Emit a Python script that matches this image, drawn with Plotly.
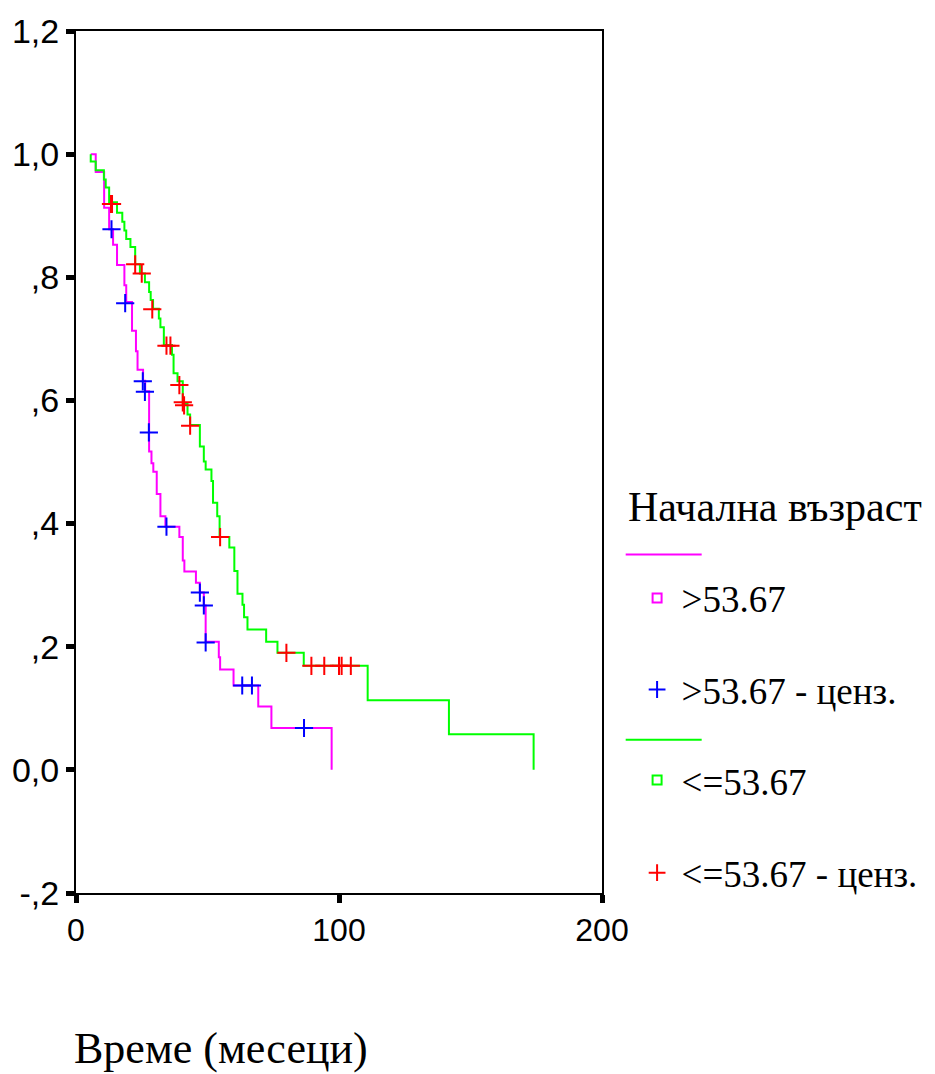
import plotly.graph_objects as go

# ---- data (time in months, cumulative survival) ----
t_gt = [5.6, 7.5, 10.7, 12.6, 14.1, 15.6, 18.4, 19.1, 21.3, 22.8, 23.4, 25.5, 26.3,
        27.8, 28.7, 29.4, 30.7, 32.1, 34.0, 39.3, 40.6, 41.2, 45.6, 47.1, 48.6, 49.3,
        54.3, 54.8, 59.9, 69.3, 74.3, 97.2]
s_gt = [1.0, 0.971, 0.913, 0.878, 0.853, 0.820, 0.787, 0.760, 0.713, 0.680, 0.650, 0.632, 0.615,
        0.517, 0.498, 0.484, 0.448, 0.412, 0.395, 0.378, 0.340, 0.322, 0.304, 0.288, 0.267, 0.208,
        0.183, 0.163, 0.137, 0.103, 0.068, 0.0]

t_le = [5.6, 5.6, 7.5, 10.6, 11.3, 12.6, 15.6, 17.6, 18.4, 19.1, 20.7, 22.5, 24.3, 26.2,
        27.8, 28.4, 29.3, 31.5, 32.1, 33.4, 36.5, 37.1, 38.6, 40.6, 42.4, 43.4, 47.1, 48.6,
        49.3, 51.5, 52.1, 53.7, 54.6, 58.3, 60.2, 61.4, 63.3, 63.9, 65.2, 72.3, 76.6, 86.6,
        110.9, 141.8, 174.0]
s_le = [1.0, 0.988, 0.974, 0.959, 0.946, 0.922, 0.905, 0.890, 0.876, 0.862, 0.849, 0.821, 0.806, 0.792,
        0.776, 0.763, 0.749, 0.733, 0.719, 0.690, 0.674, 0.644, 0.631, 0.594, 0.577, 0.560, 0.525, 0.501,
        0.488, 0.469, 0.434, 0.412, 0.378, 0.361, 0.323, 0.286, 0.268, 0.248, 0.228, 0.208, 0.190, 0.169,
        0.113, 0.058, 0.0]

cens_t_gt = [13.5, 18.7, 25.4, 26.2, 27.7, 34.4, 47.1, 48.6, 49.3, 63.2, 66.9, 86.7]
cens_s_gt = [0.878, 0.758, 0.631, 0.614, 0.548, 0.395, 0.288, 0.267, 0.207, 0.137, 0.137, 0.068]

cens_t_le = [13.3, 13.7, 22.5, 25.0, 29.0, 34.4, 35.9, 39.3, 40.6, 41.1, 43.4, 54.8, 80.0,
             89.5, 94.4, 100.0, 101.0, 104.5]
cens_s_le = [0.919, 0.919, 0.821, 0.806, 0.748, 0.689, 0.689, 0.625, 0.597, 0.592, 0.559, 0.378, 0.190,
             0.169, 0.169, 0.169, 0.169, 0.169]

y_ticks = [-0.2, 0.0, 0.2, 0.4, 0.6, 0.8, 1.0, 1.2]
y_tick_labels = ["-,2", "0,0", ",2", ",4", ",6", ",8", "1,0", "1,2"]
x_ticks = [0, 100, 200]
x_tick_labels = ["0", "100", "200"]

legend_title = "Начална възраст"
group_names = [">53.67", ">53.67 - ценз.", "<=53.67", "<=53.67 - ценз."]
x_title = "Време (месеци)"

# ---- styling ----
MAG, GRN, BLU, RED = "#FF00FF", "#00FF00", "#0000FF", "#FF0000"
SERIF = "'Liberation Serif', 'Times New Roman', Tinos, 'DejaVu Serif', serif"
SANS = "'Liberation Sans', Arial, sans-serif"

W, H = 935, 1074
ML, MR, MT, MB = 75, W - 608, 27, H - 893
PW, PH = W - ML - MR, H - MT - MB


def px(xp):
    return (xp - ML) / PW


def py(yp):
    return (H - MB - yp) / PH


fig = go.Figure()
fig.add_trace(go.Scatter(x=t_gt, y=s_gt, mode="lines",
                         line=dict(color=MAG, width=2, shape="hv"), showlegend=False))
fig.add_trace(go.Scatter(x=t_le, y=s_le, mode="lines",
                         line=dict(color=GRN, width=2, shape="hv"), showlegend=False))
fig.add_trace(go.Scatter(x=cens_t_gt, y=cens_s_gt, mode="markers",
                         marker=dict(symbol="cross-thin", size=13, color=BLU,
                                     line=dict(color=BLU, width=2)), showlegend=False))
fig.add_trace(go.Scatter(x=cens_t_le, y=cens_s_le, mode="markers",
                         marker=dict(symbol="cross-thin", size=13, color=RED,
                                     line=dict(color=RED, width=2)), showlegend=False))

# legend-only entries
leg_specs = [
    (group_names[0], "square-open", MAG, 9, 2, "legend", 597),
    (group_names[1], "cross-thin", BLU, 12, 2, "legend2", 689),
    (group_names[2], "square-open", GRN, 9, 2, "legend3", 780),
    (group_names[3], "cross-thin", RED, 12, 2, "legend4", 873),
]
layout_legends = {}
for name, sym, col, sz, lw, lg, ycen in leg_specs:
    fig.add_trace(go.Scatter(x=[None], y=[None], mode="markers", name=name,
                             marker=dict(symbol=sym, size=sz, color=col,
                                         line=dict(color=col, width=lw)),
                             legend=lg, showlegend=True))
    layout_legends[lg] = dict(x=px(639), xanchor="left", y=py(ycen), yanchor="middle",
                              bgcolor="rgba(0,0,0,0)", borderwidth=0, itemwidth=39,
                              font=dict(family=SERIF, size=37, color="black"),
                              itemclick=False, itemdoubleclick=False)

fig.update_layout(
    width=W, height=H,
    margin=dict(l=ML, r=MR, t=MT, b=MB),
    paper_bgcolor="white", plot_bgcolor="white",
    **layout_legends,
    xaxis=dict(range=[0, 200], tickvals=x_ticks, ticktext=x_tick_labels,
               showgrid=False, zeroline=False, showline=True, mirror=True,
               linecolor="black", linewidth=2, ticks="outside", ticklen=8, tickwidth=5,
               tickcolor="black", tickfont=dict(family=SANS, size=32, color="black")),
    yaxis=dict(range=[-0.2, 1.2], tickvals=y_ticks, ticktext=y_tick_labels,
               showgrid=False, zeroline=False, showline=True, mirror=True,
               linecolor="black", linewidth=2, ticks="outside", ticklen=8, tickwidth=5,
               tickcolor="black", tickfont=dict(family=SANS, size=34, color="black")),
    annotations=[
        dict(text=legend_title, xref="paper", yref="paper", x=px(632), y=py(505),
             xanchor="left", yanchor="middle", showarrow=False,
             font=dict(family=SERIF, size=42, color="black")),
        dict(text=x_title, xref="paper", yref="paper", x=px(71), y=py(1049),
             xanchor="left", yanchor="middle", showarrow=False,
             font=dict(family=SERIF, size=44, color="black")),
    ],
    shapes=[
        dict(type="line", xref="paper", yref="paper", x0=px(632), x1=px(709),
             y0=py(553), y1=py(553), line=dict(color=MAG, width=2)),
        dict(type="line", xref="paper", yref="paper", x0=px(632), x1=px(709),
             y0=py(739), y1=py(739), line=dict(color=GRN, width=2)),
    ],
)

fig.write_html("out.html")
